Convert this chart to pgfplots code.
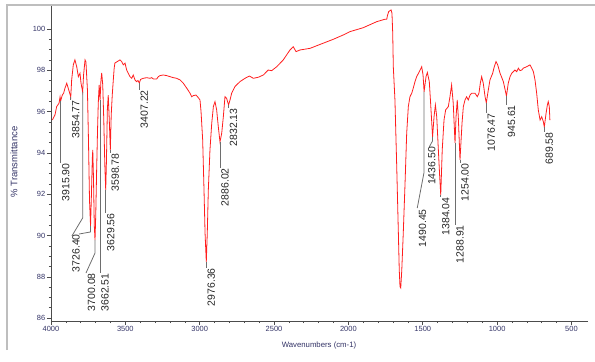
\documentclass[border=0pt]{standalone}
\usepackage{fontspec}
\setmainfont{Liberation Sans}
\usepackage{pgfplots}
\pgfplotsset{compat=1.18}
\definecolor{curve}{RGB}{255,30,30}
\definecolor{navy}{RGB}{51,51,102}
\definecolor{framec}{RGB}{190,190,190}
\definecolor{leader}{RGB}{110,110,110}
\pgfplotstableread{
w T
3991 95.59
3973 95.84
3962 96.24
3946 96.40
3939 96.71
3935 96.51
3924 96.80
3915 96.89
3906 97.13
3894 97.37
3884 97.13
3867 96.71
3861 97.53
3850 98.26
3839 98.50
3827 98.17
3816 97.69
3805 97.85
3798 97.37
3787 96.95
3781 97.77
3771 98.50
3765 98.40
3755 97.05
3748 94.63
3741 91.72
3734 90.46
3729 91.72
3722 93.75
3719 94.14
3714 92.69
3709 90.51
3704 89.78
3699 91.00
3693 93.17
3687 95.11
3682 96.42
3676 97.29
3670 96.56
3664 97.53
3659 97.87
3652 97.29
3645 95.59
3638 93.41
3632 92.20
3627 93.66
3621 96.08
3615 96.80
3608 95.59
3601 94.14
3595 95.84
3588 96.80
3581 97.53
3575 98.11
3570 98.35
3536 98.50
3525 98.42
3514 98.26
3502 98.34
3491 98.01
3480 97.85
3469 97.69
3457 97.61
3447 97.77
3435 97.53
3424 97.45
3415 97.50
3406 97.38
3398 97.55
3390 97.58
3379 97.61
3356 97.64
3334 97.61
3323 97.64
3312 97.58
3289 97.58
3278 97.69
3267 97.74
3245 97.77
3222 97.74
3200 97.69
3177 97.64
3155 97.61
3132 97.53
3110 97.37
3087 97.13
3065 96.89
3054 96.72
3043 96.77
3025 96.80
3009 96.67
2998 96.56
2991 96.00
2980 94.63
2971 92.20
2964 90.12
2955.6 88.72
2949 90.12
2942 92.20
2931 94.14
2919 95.43
2908 96.24
2897 96.48
2886 96.08
2875 95.27
2863.5 94.53
2852 94.95
2841 95.75
2830 96.72
2819 96.64
2806 96.32
2796 96.56
2785 96.89
2774 97.05
2763 97.21
2729 97.45
2695 97.61
2666 97.72
2639 97.61
2606 97.66
2572 97.77
2539 98.01
2516 97.98
2482 98.17
2438 98.50
2393 98.98
2371 99.14
2352 98.90
2326 98.98
2258 99.06
2169 99.31
2101 99.50
2034 99.71
1989 99.87
1900 100.06
1810 100.35
1754 100.47
1742 100.47
1738 100.63
1729 100.84
1713 100.92
1707 100.76
1702 99.81
1698 98.17
1687 96.56
1675 93.33
1664 90.12
1658 88.33
1653 87.52
1648 87.46
1641 88.33
1631 90.12
1619 92.54
1608 94.95
1597 96.24
1586 96.72
1574 96.89
1564 97.13
1552 97.45
1541 97.69
1523 97.93
1507 98.17
1498 97.77
1491 96.96
1478 97.69
1469 97.89
1456 97.45
1447 96.40
1434 94.77
1424 95.75
1415 96.32
1406 95.75
1395 94.14
1386 92.85
1379 91.96
1369 94.14
1357 95.59
1346 96.08
1328 96.24
1317 96.72
1306 97.29
1295 96.40
1283 94.48
1276 95.75
1268 96.56
1261 95.75
1249.5 93.66
1236 95.43
1227 96.24
1216 96.56
1205 96.72
1194 96.56
1182 96.80
1171 96.89
1149 96.89
1133 96.72
1122 96.89
1113 97.37
1104 97.69
1093 97.37
1081 96.72
1072.6 96.42
1059 97.05
1048 97.53
1030 97.85
1019 98.17
1007 98.42
996 98.26
980 97.85
958 97.45
937 96.75
925 97.37
913 97.69
902 97.85
891 97.93
880 98.01
868 97.93
857 98.10
846 97.98
834 98.01
824 98.10
801 98.17
779 98.26
767 98.10
756 97.93
745 97.53
734 96.89
723 96.08
711 95.59
700 95.75
689 95.51
682.6 95.25
671 95.90
662 96.32
656 96.48
649 96.24
645 95.59
}\spectrum

\tikzset{
  lg/.style={draw=leader, line width=0.8bp},
  lbl/.style={rotate=90, anchor=east, inner sep=0pt, font=\fontsize{10.5}{12}\selectfont, text=black!85}
}
\newcommand{\pk}[4]{\draw[lg] (axis cs:#1,#2) -- (axis cs:#1,#3) node[xshift=5bp, lbl] {#4};}

\begin{document}
\begin{tikzpicture}[x=1bp,y=1bp]
\path[use as bounding box] (0,0) rectangle (595,361);
\draw[framec, line width=1.5bp] (7,11) -- (7,356) -- (595,356);
\begin{axis}[
  at={(51bp,40bp)}, anchor=south west,
  scale only axis, width=537bp, height=315bp,
  x dir=reverse, xmin=388.7, xmax=4000, ymin=85.86, ymax=101.11,
  axis x line*=bottom, axis y line*=left,
  axis line style={-, black!70, line width=0.8bp},
  xtick={500,1000,...,4000}, ytick={86,88,...,100},
  minor x tick num=4, minor y tick num=3,
  major tick length=4bp, minor tick length=2bp, tick align=outside,
  tick style={black!70, line width=0.6bp},
  tick label style={font=\fontsize{7.5}{9}\selectfont, text=navy, inner sep=1.5bp},
  /pgf/number format/assume math mode=true,
  /pgf/number format/1000 sep={},
  clip=false,
]
\addplot[curve, line width=0.8bp, mark=none] table[x=w, y=T] {\spectrum};

\pk{3935}{96.51}{93.51}{3915.90}
\pk{3867.5}{96.71}{96.56}{3854.77}
\draw[lg] (axis cs:3787,96.95) -- (axis cs:3787,90.85) -- (axis cs:3859,89.98);
\draw[lg] (axis cs:3734.4,90.46) -- (axis cs:3734.4,90.17) -- (axis cs:3812,90.07);
\node[lbl] at (axis cs:3832,90.07) {3726.40};
\draw[lg] (axis cs:3704,89.78) -- (axis cs:3704,89.15) -- (axis cs:3765,88.18);
\node[lbl] at (axis cs:3728,88.18) {3700.08};
\pk{3670.5}{96.56}{88.18}{3662.51}
\pk{3632.2}{92.20}{91.09}{3629.56}
\pk{3601.2}{94.14}{93.99}{3598.78}
\pk{3406}{97.38}{97.05}{3407.22}
\pk{2955.6}{88.72}{88.43}{2976.36}
\pk{2863.5}{94.53}{93.27}{2886.02}
\pk{2806}{96.32}{96.17}{2832.13}
\draw[lg] (axis cs:1491,96.96) -- (axis cs:1491,93.07) -- (axis cs:1537,91.33);
\node[lbl] at (axis cs:1502,91.28) {1490.45};
\draw[lg] (axis cs:1434,94.77) -- (axis cs:1434,94.58) -- (axis cs:1456,94.29);
\node[lbl] at (axis cs:1440,94.29) {1436.50};
\pk{1379}{91.96}{91.86}{1384.04}
\pk{1283}{94.48}{90.51}{1288.91}
\pk{1249.5}{93.66}{93.51}{1254.00}
\pk{1072.6}{96.42}{95.93}{1076.47}
\pk{937}{96.75}{96.32}{945.61}
\pk{682.6}{95.25}{95.01}{689.58}
\end{axis}
\node[font=\fontsize{7.8}{9}\selectfont, text=navy] at (319,16) {Wavenumbers (cm-1)};
\node[rotate=90, font=\fontsize{9.5}{11}\selectfont, text=navy] at (14,199) {\% Transmittance};
\end{tikzpicture}
\end{document}
